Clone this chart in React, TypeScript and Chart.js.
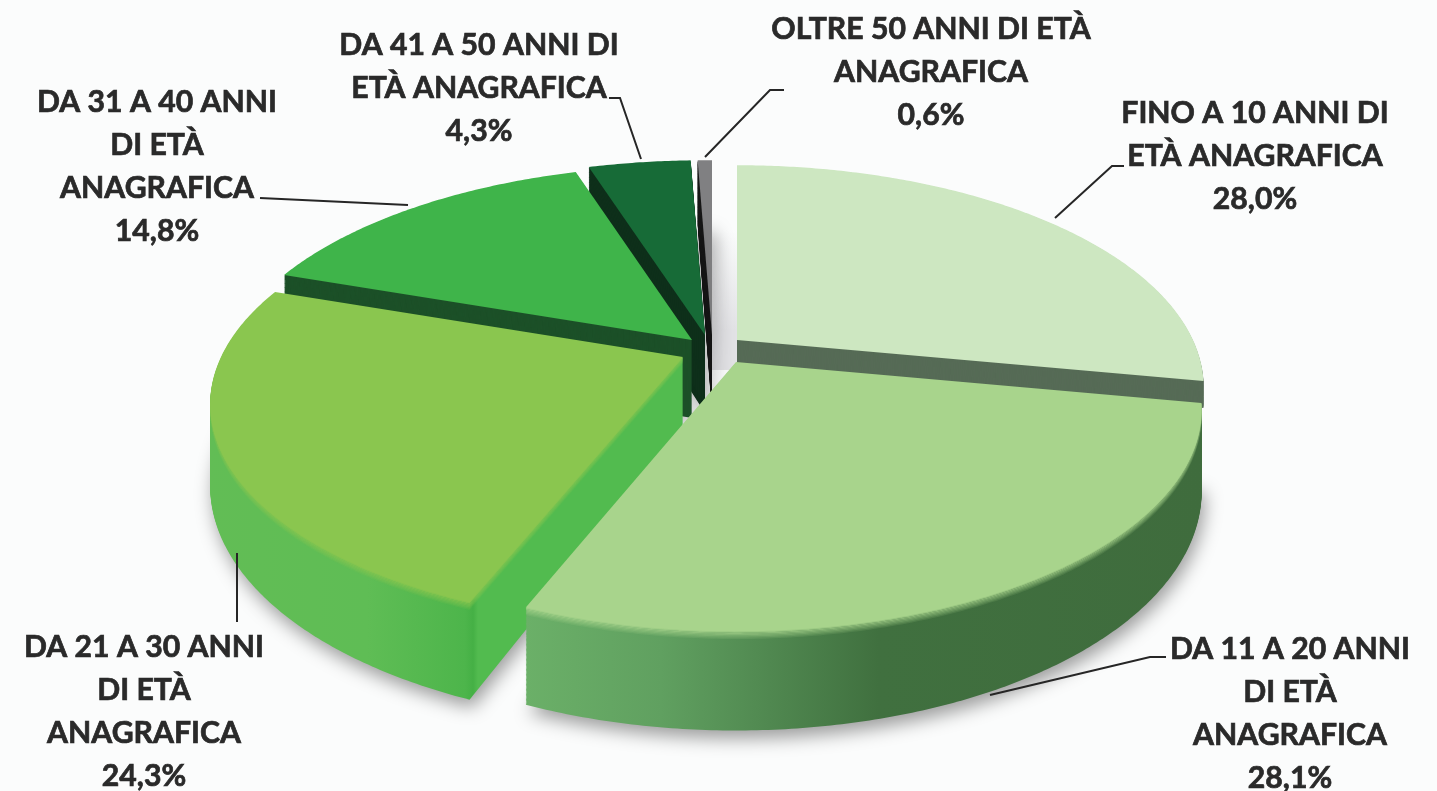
import React, { useEffect, useRef } from "react";
import { Chart, registerables } from "chart.js";

Chart.register(...registerables);

// ---- data ----
const categories = [
  "FINO A 10 ANNI DI ETÀ ANAGRAFICA",
  "DA 11 A 20 ANNI DI ETÀ ANAGRAFICA",
  "DA 21 A 30 ANNI DI ETÀ ANAGRAFICA",
  "DA 31 A 40 ANNI DI ETÀ ANAGRAFICA",
  "DA 41 A 50 ANNI DI ETÀ ANAGRAFICA",
  "OLTRE 50 ANNI DI ETÀ ANAGRAFICA",
];
const values = [28.0, 28.1, 24.3, 14.8, 4.3, 0.6];
const valueLabels = ["28,0%", "28,1%", "24,3%", "14,8%", "4,3%", "0,6%"];
const labelLines = [
  ["FINO A 10 ANNI DI", "ETÀ ANAGRAFICA"],
  ["DA 11 A 20 ANNI", "DI ETÀ", "ANAGRAFICA"],
  ["DA 21 A 30 ANNI", "DI ETÀ", "ANAGRAFICA"],
  ["DA 31 A 40 ANNI", "DI ETÀ", "ANAGRAFICA"],
  ["DA 41 A 50 ANNI DI", "ETÀ ANAGRAFICA"],
  ["OLTRE 50 ANNI DI ETÀ", "ANAGRAFICA"],
];

// ---- styling and layout ----
const topColors = ["#cde7c1", "#a8d48c", "#8ac64f", "#3fb44a", "#176b37", "#808082"];
const labelAnchors = [
  [1255, 113],
  [1290, 649],
  [144, 647],
  [157, 102],
  [479, 45],
  [931, 29],
];
const leaderPaths = [
  [[1055, 218], [1112, 166], [1124, 166]],
  [[990, 695], [1150, 657], [1166, 657]],
  [[237, 553], [237, 622]],
  [[260, 198], [408, 205]],
  [[609, 98], [620, 98], [641, 159]],
  [[705, 157], [770, 90], [784, 90]],
];
// screen position of each slice's apex (the pie is exploded)
const apexes = [
  [737, 340],
  [736, 362],
  [683, 357],
  [692, 340],
  [705, 335],
  [712, 335],
];
const drawOrder = [5, 4, 3, 0, 2, 1];
const SX = [456, 455, 462, 462, 462, 462];
const SY = 212;
const PERSPECTIVE = 0.213;
const DEPTHS = [26, 78, 78, 78, 78, 78];
const BEVEL = [0, 7, 7, 0, 0, 0];

function wallPaint(ctx: CanvasRenderingContext2D, i: number) {
  if (i === 1) {
    const g = ctx.createLinearGradient(525, 0, 1205, 0);
    g.addColorStop(0, "#6bb068");
    g.addColorStop(0.2, "#60a060");
    g.addColorStop(0.36, "#508850");
    g.addColorStop(0.52, "#40703f");
    g.addColorStop(1, "#3f6c3d");
    return g;
  }
  if (i === 2) {
    const g = ctx.createLinearGradient(205, 0, 530, 0);
    g.addColorStop(0, "#62bd55");
    g.addColorStop(0.5, "#5fbd55");
    g.addColorStop(0.8, "#4db54b");
    g.addColorStop(0.825, "#45b045");
    g.addColorStop(0.84, "#52bb4f");
    g.addColorStop(1, "#52bb4f");
    return g;
  }
  return ["#566b56", "", "", "#1c5028", "#0e2f1a", "#1a1a1a"][i];
}

// Hands the arc element a context that bends its path through the perspective view.
function projectedContext(
  ctx: CanvasRenderingContext2D,
  el: any,
  i: number,
  z: number,
  paint: () => any
) {
  const R = el.outerRadius || 1;
  const [ax, ay] = apexes[i];
  const project = (px: number, py: number) => {
    const u = (px - el.x) / R;
    const v = (py - el.y) / R;
    const w = 1 / (1 - PERSPECTIVE * v);
    return [ax + SX[i] * u * w, ay + SY * v * w + z * w];
  };
  const overrides: Record<string, any> = {
    lineTo: (x: number, y: number) => {
      const p = project(x, y);
      ctx.lineTo(p[0], p[1]);
    },
    moveTo: (x: number, y: number) => {
      const p = project(x, y);
      ctx.moveTo(p[0], p[1]);
    },
    arc: (x: number, y: number, r: number, a0: number, a1: number, ccw?: boolean) => {
      const n = Math.max(2, Math.ceil(Math.abs(a1 - a0) / 0.01));
      const end = ccw && a1 > a0 ? a1 - Math.PI * 2 : a1;
      for (let k = 0; k <= n; k++) {
        const a = a0 + ((end - a0) * k) / n;
        const p = project(x + r * Math.cos(a), y + r * Math.sin(a));
        ctx.lineTo(p[0], p[1]);
      }
    },
  };
  return new Proxy(ctx, {
    get(target: any, prop: string) {
      if (prop in overrides) return overrides[prop];
      const value = target[prop];
      return typeof value === "function" ? value.bind(target) : value;
    },
    set(target: any, prop: string, value: any) {
      target[prop] = prop === "fillStyle" ? paint() : value;
      return true;
    },
  });
}

const pie3d = {
  id: "pie3d",
  beforeDraw(chart: any) {
    const { ctx, width, height } = chart;
    ctx.save();
    ctx.fillStyle = "#fbfcfc";
    ctx.fillRect(0, 0, width, height);
    // grey shade in the gap behind the slices
    const shade = ctx.createLinearGradient(0, 230, 0, 330);
    shade.addColorStop(0, "rgba(226,226,229,0)");
    shade.addColorStop(1, "rgba(226,226,229,1)");
    ctx.fillStyle = shade;
    ctx.fillRect(710, 230, 28, 140);
    ctx.restore();
  },
  beforeDatasetDraw(chart: any) {
    const ctx: CanvasRenderingContext2D = chart.ctx;
    const arcs = chart.getDatasetMeta(0).data;
    for (const i of drawOrder) {
      const el = arcs[i];
      const wall = wallPaint(ctx, i);
      const depth = DEPTHS[i];
      // soft shadow under the slice
      ctx.save();
      if (depth > 30) {
        ctx.shadowColor = "rgba(0,0,0,0.38)";
        ctx.shadowBlur = 18;
        ctx.shadowOffsetX = 3;
        ctx.shadowOffsetY = 8;
      }
      el.draw(projectedContext(ctx, el, i, depth, () => wall));
      ctx.restore();
      for (let z = depth - 1; z > 0; z--) {
        el.draw(projectedContext(ctx, el, i, z, () => wall));
        if (z < BEVEL[i]) {
          ctx.save();
          ctx.globalAlpha = 1 - z / BEVEL[i];
          el.draw(projectedContext(ctx, el, i, z, () => topColors[i]));
          ctx.restore();
        }
      }
      el.draw(projectedContext(ctx, el, i, 0, () => topColors[i]));
    }
    return false;
  },
  afterDraw(chart: any) {
    const ctx: CanvasRenderingContext2D = chart.ctx;
    ctx.save();
    ctx.strokeStyle = "#262626";
    ctx.lineWidth = 2;
    ctx.lineJoin = "miter";
    for (const path of leaderPaths) {
      ctx.beginPath();
      path.forEach(([x, y], k) => (k ? ctx.lineTo(x, y) : ctx.moveTo(x, y)));
      ctx.stroke();
    }
    ctx.fillStyle = "#2a2a2a";
    ctx.strokeStyle = "#2a2a2a";
    ctx.lineWidth = 0.7;
    ctx.font = 'bold 30.2px "Lato", "Open Sans", sans-serif';
    ctx.textAlign = "center";
    ctx.textBaseline = "middle";
    labelLines.forEach((lines, i) => {
      const [x, y] = labelAnchors[i];
      [...lines, valueLabels[i]].forEach((line, k) => {
        ctx.fillText(line, x, y + k * 43);
        ctx.strokeText(line, x, y + k * 43);
      });
    });
    ctx.restore();
  },
};

export default function App() {
  const ref = useRef<HTMLCanvasElement | null>(null);
  useEffect(() => {
    if (!ref.current) return;
    const chart = new Chart(ref.current, {
      type: "pie",
      data: {
        labels: categories,
        datasets: [{ data: values, backgroundColor: topColors, borderWidth: 0 }],
      },
      options: {
        responsive: false,
        animation: false,
        rotation: 0,
        events: [],
        plugins: { legend: { display: false }, tooltip: { enabled: false } },
      },
      plugins: [pie3d],
    } as any);
    return () => chart.destroy();
  }, []);
  return (
    <div style={{ position: "absolute", left: 0, top: 0, width: 1437, height: 791, overflow: "hidden" }}>
      <canvas ref={ref} width={1437} height={791} style={{ display: "block" }} />
    </div>
  );
}
